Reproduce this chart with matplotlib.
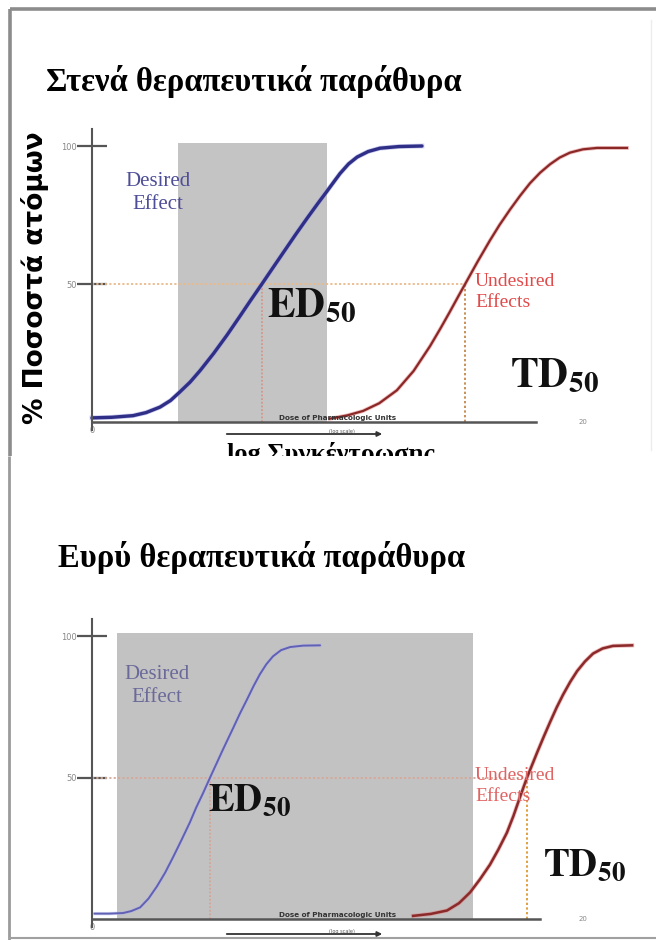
import matplotlib
matplotlib.use("Agg")
import matplotlib.pyplot as plt
from matplotlib.patches import Rectangle

plt.rcParams["mathtext.fontset"] = "stix"

# ---------------- data ----------------
y_ticks = [50, 100]
y_tick_labels = ["50", "100"]
x_tick_labels = ["0", "20"]

titles = ["Στενά θεραπευτικά παράθυρα", "Ευρύ θεραπευτικά παράθυρα"]
ylabel_text = "% Ποσοστά ατόμων"
xlabel_text = "log Συγκέντρωσης"

# narrow therapeutic window (top)
narrow_ed_x = [0.0, 0.8, 1.67, 2.2, 2.77, 3.2, 3.58, 4.0, 4.4, 4.95, 5.5, 6.0, 6.44, 6.92,
               7.37, 7.8, 8.3, 8.76, 9.2, 9.57, 9.85, 10.1, 10.45, 10.8, 11.25, 11.73, 12.5, 13.44]
narrow_ed_y = [1.5, 1.7, 2.3, 3.4, 5.4, 7.8, 10.9, 14.5, 18.6, 24.8, 31.5, 38.0, 43.8, 50.0,
               55.9, 61.5, 68.0, 73.8, 79.2, 83.6, 87.0, 90.0, 93.5, 96.0, 98.0, 99.2, 99.8, 100.0]
narrow_td_x = [9.69, 10.4, 11.04, 11.7, 12.42, 13.1, 13.77, 14.2, 14.58, 14.9, 15.2, 15.7,
               16.21, 16.6, 17.03, 17.44, 17.84, 18.25, 18.66, 19.05, 19.47, 20.0, 20.57, 21.79]
narrow_td_y = [1.2, 2.4, 4.0, 6.8, 11.5, 18.5, 27.5, 34.0, 40.0, 45.2, 50.0, 58.0,
               65.8, 71.4, 77.0, 82.0, 86.5, 90.3, 93.4, 95.8, 97.6, 98.8, 99.3, 99.3]
narrow_window = [3.5, 9.57]
narrow_ed50 = 6.92
narrow_td50 = 15.2

# wide therapeutic window (bottom)
wide_ed_x = [0.1, 0.7, 1.26, 1.6, 1.96, 2.3, 2.65, 2.98, 3.3, 3.65, 3.99, 4.25, 4.52, 4.81,
             5.07, 5.34, 5.74, 6.02, 6.31, 6.58, 6.84, 7.1, 7.37, 7.7, 8.07, 8.6, 9.29]
wide_ed_y = [1.9, 1.9, 2.1, 2.8, 4.1, 7.2, 11.6, 16.4, 21.8, 28.0, 34.2, 39.5, 44.4, 50.0,
             54.9, 60.0, 67.3, 72.5, 77.5, 82.3, 86.5, 90.0, 92.8, 95.0, 96.1, 96.6, 96.7]
wide_td_x = [13.08, 13.8, 14.46, 14.95, 15.4, 15.8, 16.21, 16.55, 16.9, 17.17, 17.43, 17.72,
             18.13, 18.4, 18.66, 18.93, 19.19, 19.48, 19.76, 20.08, 20.41, 20.8, 21.22, 22.0]
wide_td_y = [1.1, 1.8, 3.0, 5.6, 9.4, 14.0, 19.2, 24.5, 30.5, 36.5, 43.0, 50.0,
             58.8, 64.4, 69.6, 74.8, 79.3, 83.8, 87.6, 91.0, 93.8, 95.6, 96.5, 96.7]
wide_window = [1.02, 15.52]
wide_ed50 = 4.81
wide_td50 = 17.72

# ---------------- layout ----------------
W, H = 656, 940
fig = plt.figure(figsize=(W / 100, H / 100), dpi=100)


def px_rect(x0, y_top, x1, y_bot):
    return [x0 / W, 1 - y_bot / H, (x1 - x0) / W, (y_bot - y_top) / H]


def pixel_axes(rect_px, zorder):
    a = fig.add_axes(px_rect(*rect_px))
    a.set_xlim(rect_px[0], rect_px[2])
    a.set_ylim(rect_px[3], rect_px[1])
    a.axis("off")
    a.set_zorder(zorder)
    return a


bg = pixel_axes((0, 0, W, H), 0)

# slide frames
bg.plot([10, W], [9, 9], color="#8c8c8c", lw=2.6, solid_capstyle="butt")
bg.plot([10, 10], [9, 456], color="#8c8c8c", lw=2.6, solid_capstyle="butt")
bg.plot([9, 9], [456, H], color="#9a9a9a", lw=2.0, solid_capstyle="butt")
bg.plot([9, W], [938, 938], color="#a0a0a0", lw=1.5, solid_capstyle="butt")
bg.plot([651, 651], [20, 450], color="#ececec", lw=1.0)

XMAX = 22.5
PX_PER_UNIT = 24.55


def chart(y100, y0, ed_x, ed_y, td_x, td_y, window, ed50, td50, axis_end,
          ed_color, ed_lw, ed_halo, td_color, td_lw, hline_color, ed_vcolor,
          td_vcolor, win_color):
    ax = fig.add_axes(px_rect(92, y100, 92 + XMAX * PX_PER_UNIT, y0))
    ax.set_zorder(1)
    ax.set_xlim(0, XMAX)
    ax.set_ylim(0, 100)
    ax.patch.set_alpha(0)
    ax.add_patch(Rectangle((window[0], 0), window[1] - window[0], 101,
                           facecolor=win_color, edgecolor="none", zorder=1,
                           clip_on=False))
    dot = (0, (1.2, 1.2))
    ax.plot([0, td50], [50, 50], ls=dot, color=hline_color, lw=1.3, zorder=2)
    ax.plot([ed50, ed50], [0, 50], ls=dot, color=ed_vcolor, lw=1.1, zorder=2)
    ax.plot([td50, td50], [0, 50], ls=dot, color=td_vcolor, lw=1.4, zorder=2)
    ax.plot(td_x, td_y, color="#e07a7a", lw=td_lw + 1.2, alpha=0.5,
            clip_on=False, zorder=3, solid_joinstyle="round")
    ax.plot(td_x, td_y, color=td_color, lw=td_lw, clip_on=False, zorder=4,
            solid_joinstyle="round")
    ax.plot(ed_x, ed_y, color=ed_halo, lw=ed_lw + 1.0, alpha=0.5,
            clip_on=False, zorder=3, solid_joinstyle="round")
    ax.plot(ed_x, ed_y, color=ed_color, lw=ed_lw, clip_on=False, zorder=4,
            solid_capstyle="round", solid_joinstyle="round")
    for s in ("top", "right"):
        ax.spines[s].set_visible(False)
    ax.spines["left"].set_bounds(-3, 106)
    ax.spines["left"].set_color("#555555")
    ax.spines["left"].set_linewidth(1.5)
    ax.spines["bottom"].set_bounds(0, axis_end)
    ax.spines["bottom"].set_color("#555555")
    ax.spines["bottom"].set_linewidth(1.8)
    ax.spines["left"].set_zorder(5)
    ax.spines["bottom"].set_zorder(5)
    ax.set_yticks(y_ticks)
    ax.set_yticklabels(y_tick_labels)
    ax.tick_params(axis="y", direction="inout", length=22, width=1.6,
                   color="#555555", labelsize=6, labelcolor="#888888", pad=0)
    ax.set_xticks([0])
    ax.set_xticklabels(x_tick_labels[:1])
    ax.tick_params(axis="x", length=0, labelsize=6, labelcolor="#888888", pad=3)
    ax.text(20, 0, x_tick_labels[1], ha="center", va="center", fontsize=5,
            color="#888888")
    return ax


ax1 = chart(146, 422, narrow_ed_x, narrow_ed_y, narrow_td_x, narrow_td_y,
            narrow_window, narrow_ed50, narrow_td50, 18.1,
            "#2f2f88", 2.4, "#9a9ae0", "#8a2828", 1.6,
            "#eab98a", "#d59080", "#c9905a", "#c4c4c4")
ax2 = chart(636, 919, wide_ed_x, wide_ed_y, wide_td_x, wide_td_y,
            wide_window, wide_ed50, wide_td50, 18.25,
            "#6060b4", 1.4, "#b0b0ee", "#8a2a2a", 1.8,
            "#d8a898", "#d8a090", "#e0a040", "#c2c2c2")

fg = pixel_axes((0, 0, W, H), 5)

# titles
serif = ["Liberation Serif", "DejaVu Serif"]
fg.text(254, 81, titles[0], ha="center", va="center", fontsize=23.5,
        fontweight="bold", family=serif)
fg.text(262, 558, titles[1], ha="center", va="center", fontsize=23.5,
        fontweight="bold", family=serif)

# y label
fg.text(35, 278, ylabel_text, rotation=90, ha="center", va="center",
        fontsize=19, fontweight="bold", family=["DejaVu Sans"])

# clipped x label at the bottom of the top slide
panel = pixel_axes((10, 9, W, 456), 6)
panel.text(331, 461, xlabel_text, ha="center", va="baseline", fontsize=19,
           fontweight="bold", family=serif, clip_on=True)

# tiny captions + arrows near the x axes
for ytxt, yarr, xtxt in [(418, 434, 338), (915, 934, 338)]:
    fg.text(xtxt, ytxt, "Dose of Pharmacologic Units", ha="center",
            va="center", fontsize=5.2, fontweight="bold", color="#333333")
    fg.annotate("", xy=(385, yarr), xytext=(224, yarr),
                arrowprops=dict(arrowstyle="-|>", color="#333333", lw=1.3,
                                mutation_scale=7))
    fg.text(342, yarr - 3, "(log scale)", ha="center", va="center",
            fontsize=3.6, color="#555555")

# annotations
fg.text(158, 193, "Desired\nEffect", ha="center", va="center", fontsize=15,
        color="#4e4e98", family=serif, linespacing=1.35)
fg.text(475, 292, "Undesired\nEffects", ha="left", va="center", fontsize=14,
        color="#e04a4a", family=serif, linespacing=1.35)
fg.text(267, 317, r"$\mathbf{ED}_{\mathbf{50}}$", ha="left", va="baseline",
        fontsize=30, color="#111111")
fg.text(510, 387, r"$\mathbf{TD}_{\mathbf{50}}$", ha="left", va="baseline",
        fontsize=30, color="#111111")

fg.text(157, 686, "Desired\nEffect", ha="center", va="center", fontsize=15,
        color="#6a6a9a", family=serif, linespacing=1.35)
fg.text(475, 786, "Undesired\nEffects", ha="left", va="center", fontsize=14,
        color="#e06464", family=serif, linespacing=1.35)
fg.text(208, 811, r"$\mathbf{ED}_{\mathbf{50}}$", ha="left", va="baseline",
        fontsize=28, color="#111111")
fg.text(543, 876, r"$\mathbf{TD}_{\mathbf{50}}$", ha="left", va="baseline",
        fontsize=28, color="#111111")

fig.savefig("out.png", dpi=100)
